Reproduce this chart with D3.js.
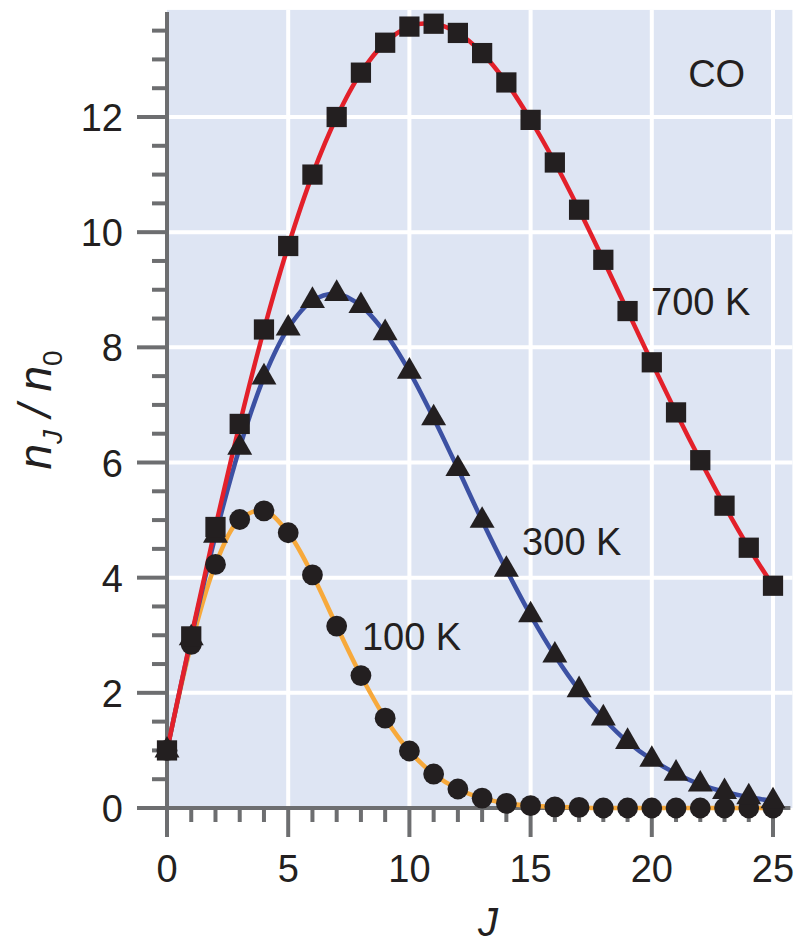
<!DOCTYPE html>
<html lang="en">
<head>
<meta charset="UTF-8">
<title>CO rotational populations</title>
<script src="https://d3js.org/d3.v7.min.js"></script>
<style>
  body { margin: 0; background: #fff; }
  svg text { font-family: "Liberation Sans", Arial, Helvetica, sans-serif; fill: #231f20; }
  .line { fill: none; stroke-width: 4.5px; }
</style>
</head>
<body>
<div id="chart"></div>
<script>
// rotational quantum number J
var levels = [0, 1, 2, 3, 4, 5, 6, 7, 8, 9, 10, 11, 12, 13, 14, 15, 16, 17, 18, 19, 20, 21, 22, 23, 24, 25];

// n_J / n_0
var pop700 = [1.00, 2.98, 4.88, 6.67, 8.31, 9.76, 11.00, 12.00, 12.77, 13.29, 13.57, 13.62, 13.46,
              13.11, 12.60, 11.95, 11.21, 10.39, 9.52, 8.63, 7.74, 6.87, 6.04, 5.25, 4.52, 3.86];
var pop300 = [1.00, 2.95, 4.73, 6.26, 7.48, 8.33, 8.81, 8.93, 8.72, 8.25, 7.58, 6.77, 5.89,
              4.99, 4.14, 3.35, 2.65, 2.05, 1.56, 1.15, 0.84, 0.60, 0.41, 0.28, 0.19, 0.12];
var pop100 = [1.00, 2.84, 4.23, 5.01, 5.16, 4.78, 4.05, 3.16, 2.30, 1.56, 0.99, 0.59, 0.33,
              0.17, 0.08, 0.04, 0.02, 0.01, 0.00, 0.00, 0.00, 0.00, 0.00, 0.00, 0.00, 0.00];

var xTicks = [0, 5, 10, 15, 20, 25];
var yTicks = [0, 2, 4, 6, 8, 10, 12];
var seriesLabels = ["700 K", "300 K", "100 K"];
var moleculeLabel = "CO";

var width = 796, height = 944;

var svg = d3.select("#chart").append("svg")
    .attr("width", width)
    .attr("height", height);

// scales
var x = d3.scaleLinear().domain([0, 25]).range([167, 773]);
var y = d3.scaleLinear().domain([0, 12]).range([808, 117]);
var xEnd = 25.8, yEnd = 13.86;

var axisColor = "#6d6e70";

// plot background
svg.append("rect")
    .attr("x", x(0))
    .attr("y", y(yEnd))
    .attr("width", x(xEnd) - x(0))
    .attr("height", y(0) - y(yEnd))
    .attr("fill", "#dee5f3");

// white grid
var grid = svg.append("g").attr("stroke", "#fff").attr("stroke-width", 4);
grid.selectAll(".gx").data(xTicks.slice(1)).enter().append("line")
    .attr("x1", function(d) { return x(d); }).attr("x2", function(d) { return x(d); })
    .attr("y1", y(0)).attr("y2", y(yEnd));
grid.selectAll(".gy").data(yTicks.slice(1)).enter().append("line")
    .attr("x1", x(0)).attr("x2", x(xEnd))
    .attr("y1", function(d) { return y(d); }).attr("y2", function(d) { return y(d); });

// axes (custom long/short ticks)
var xMinor = levels.filter(function(d) { return d % 5 !== 0; });
var yMinor = d3.range(1, 28).map(function(i) { return i * 0.5; }).filter(function(d) { return d % 2 !== 0; });

var axes = svg.append("g").attr("stroke", axisColor).attr("stroke-width", 4);

axes.selectAll(".xmaj").data(xTicks).enter().append("line")
    .attr("x1", function(d) { return x(d); }).attr("x2", function(d) { return x(d); })
    .attr("y1", y(0)).attr("y2", y(0) + 29);
axes.selectAll(".xmin").data(xMinor).enter().append("line")
    .attr("x1", function(d) { return x(d); }).attr("x2", function(d) { return x(d); })
    .attr("y1", y(0)).attr("y2", y(0) + 14);
axes.selectAll(".ymaj").data(yTicks).enter().append("line")
    .attr("x1", x(0) - 30).attr("x2", x(0))
    .attr("y1", function(d) { return y(d); }).attr("y2", function(d) { return y(d); });
axes.selectAll(".ymin").data(yMinor).enter().append("line")
    .attr("x1", x(0) - 15).attr("x2", x(0))
    .attr("y1", function(d) { return y(d); }).attr("y2", function(d) { return y(d); });
axes.append("line")
    .attr("x1", x(0)).attr("x2", x(xEnd) - 2)
    .attr("y1", y(0)).attr("y2", y(0));
axes.append("line")
    .attr("x1", x(0)).attr("x2", x(0))
    .attr("y1", y(0) + 2).attr("y2", y(yEnd) + 2);

// tick labels
svg.selectAll(".xl").data(xTicks).enter().append("text")
    .attr("x", function(d) { return x(d); })
    .attr("y", 882)
    .attr("text-anchor", "middle")
    .attr("font-size", 38)
    .text(function(d) { return d; });
svg.selectAll(".yl").data(yTicks).enter().append("text")
    .attr("x", 123)
    .attr("y", function(d) { return y(d) + 14; })
    .attr("text-anchor", "end")
    .attr("font-size", 38)
    .text(function(d) { return d; });

// axis titles
svg.append("text")
    .attr("x", 488).attr("y", 936)
    .attr("text-anchor", "middle")
    .attr("font-size", 40)
    .attr("font-style", "italic")
    .text("J");

var yt = svg.append("text")
    .attr("transform", "translate(51,410) rotate(-90)")
    .attr("text-anchor", "middle")
    .attr("font-size", 46)
    .attr("font-style", "italic");
yt.append("tspan").text("n");
yt.append("tspan").attr("font-size", 28).attr("dy", 11).text("J");
yt.append("tspan").attr("dy", -11).text(" / n");
yt.append("tspan").attr("font-size", 28).attr("font-style", "normal").attr("dy", 11).text("0");

// curves
var series = [
  { values: pop100, color: "#f7a93b", symbol: d3.symbolCircle, size: 340 },
  { values: pop300, color: "#3c51a3", symbol: d3.symbolTriangle, size: 270 },
  { values: pop700, color: "#e3202a", symbol: d3.symbolSquare, size: 410 }
];

var line = d3.line()
    .x(function(d, i) { return x(levels[i]); })
    .y(function(d) { return y(d); })
    .curve(d3.curveCatmullRom.alpha(0.5));

series.forEach(function(s) {
  svg.append("path")
      .datum(s.values)
      .attr("class", "line")
      .attr("stroke", s.color)
      .attr("d", line);
});

series.forEach(function(s) {
  svg.append("g").selectAll("path")
      .data(s.values)
      .enter().append("path")
      .attr("transform", function(d, i) { return "translate(" + x(levels[i]) + "," + y(d) + ")"; })
      .attr("d", d3.symbol().type(s.symbol).size(s.size))
      .attr("fill", "#231f20");
});

// annotations
var notes = svg.append("g").attr("font-size", 38);
notes.append("text").attr("x", x(19.97)).attr("y", y(8.56)).text(seriesLabels[0]);
notes.append("text").attr("x", x(14.65)).attr("y", y(4.39)).text(seriesLabels[1]);
notes.append("text").attr("x", x(8.04)).attr("y", y(2.74)).text(seriesLabels[2]);
notes.append("text").attr("x", x(21.5)).attr("y", y(12.52)).text(moleculeLabel);
</script>
</body>
</html>
